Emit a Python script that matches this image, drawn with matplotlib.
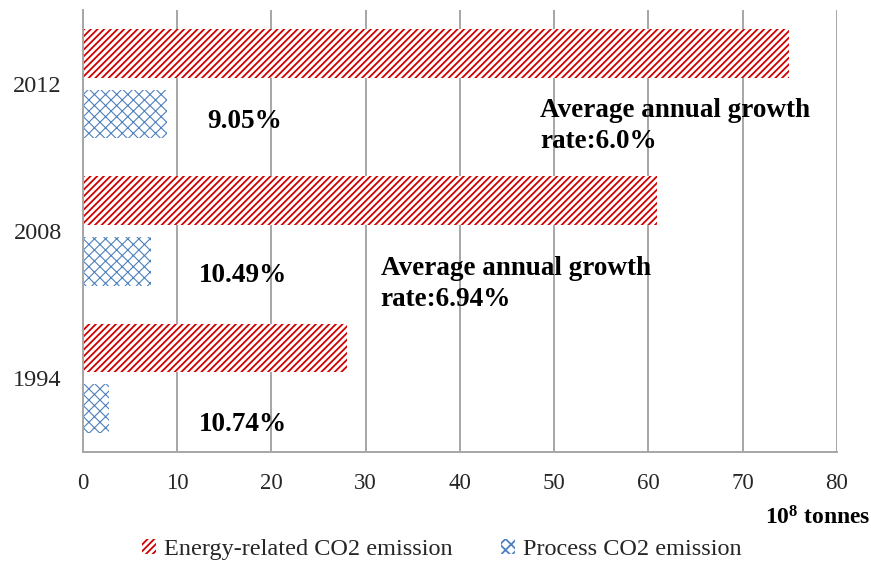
import matplotlib
matplotlib.use('Agg')
import matplotlib.pyplot as plt
import numpy as np

years = ['1994', '2008', '2012']
energy_co2 = [28.0, 60.9, 74.9]
process_co2 = [2.8, 7.2, 8.9]
share_labels = ['10.74%', '10.49%', '9.05%']
growth_labels = ['Average annual growth\nrate:6.94%',
                 'Average annual growth\nrate:6.0%']
xticks = [0, 10, 20, 30, 40, 50, 60, 70, 80]

plt.rcParams['font.family'] = ['Liberation Serif', 'DejaVu Serif']
plt.rcParams['mathtext.fontset'] = 'custom'
plt.rcParams['mathtext.rm'] = 'Liberation Serif'
plt.rcParams['mathtext.bf'] = 'Liberation Serif:bold'
plt.rcParams['hatch.linewidth'] = 1.3

red = '#D00000'
blue = '#4F81BD'
grid_grey = '#A6A6A6'

fig = plt.figure(figsize=(8.71, 5.65), dpi=100)
ax = fig.add_axes([0.0949, 0.2, 0.8661, 0.7823])

y = np.arange(len(years))
h = 0.33
off = 0.205
b1 = ax.barh(y + off, energy_co2, height=h, facecolor='white', edgecolor=red,
             hatch='/////', linewidth=0, label='Energy-related CO2 emission',
             zorder=3)
b2 = ax.barh(y - off, process_co2, height=h, facecolor='white', edgecolor=blue,
             hatch='xxx', linewidth=0, label='Process CO2 emission', zorder=3)
for p in b2:
    try:
        p.set_hatch_linewidth(0.8)
    except AttributeError:
        pass

ax.set_xlim(0, 80)
ax.set_ylim(-0.5, 2.5)
ax.set_xticks(xticks)
ax.set_yticks(y)
ax.set_yticklabels(years)
ax.tick_params(axis='both', length=0, labelcolor='#262626')
ax.tick_params(axis='x', pad=15, labelsize=16.5)
ax.tick_params(axis='y', pad=15, labelsize=17.5)
ax.grid(axis='x', color=grid_grey, linewidth=1.4, zorder=0)
ax.set_axisbelow(True)
for side in ['top', 'right']:
    ax.spines[side].set_visible(False)
for side in ['left', 'bottom']:
    ax.spines[side].set_color(grid_grey)
    ax.spines[side].set_linewidth(1.4)
    ax.spines[side].set_zorder(4)

# share of process emissions, next to each year's group
share_pos = [(12.35, -0.31), (12.35, 0.70), (13.2, 1.74)]
for (tx, ty), s in zip(share_pos, share_labels):
    ax.text(tx, ty, s, fontsize=19.5, fontweight='bold', va='center',
            ha='left', zorder=5)

growth_pos = [(31.6, 0.64), (48.5, 1.715)]
for (tx, ty), s in zip(growth_pos, growth_labels):
    ax.text(tx, ty, s, fontsize=19.5, fontweight='bold', va='center',
            ha='left', linespacing=1.3, zorder=5)

fig.text(0.999, 0.083, r'$\mathbf{10^8}$ tonnes', fontsize=17,
         fontweight='bold', ha='right', va='center')

fig.legend(handles=[b1, b2], loc='center', bbox_to_anchor=(0.507, 0.028),
           ncol=2, frameon=False, fontsize=17.5, handlelength=0.6,
           handleheight=0.6, handletextpad=0.3, columnspacing=2.0,
           labelcolor='#262626')

fig.savefig('out.png', dpi=100)
